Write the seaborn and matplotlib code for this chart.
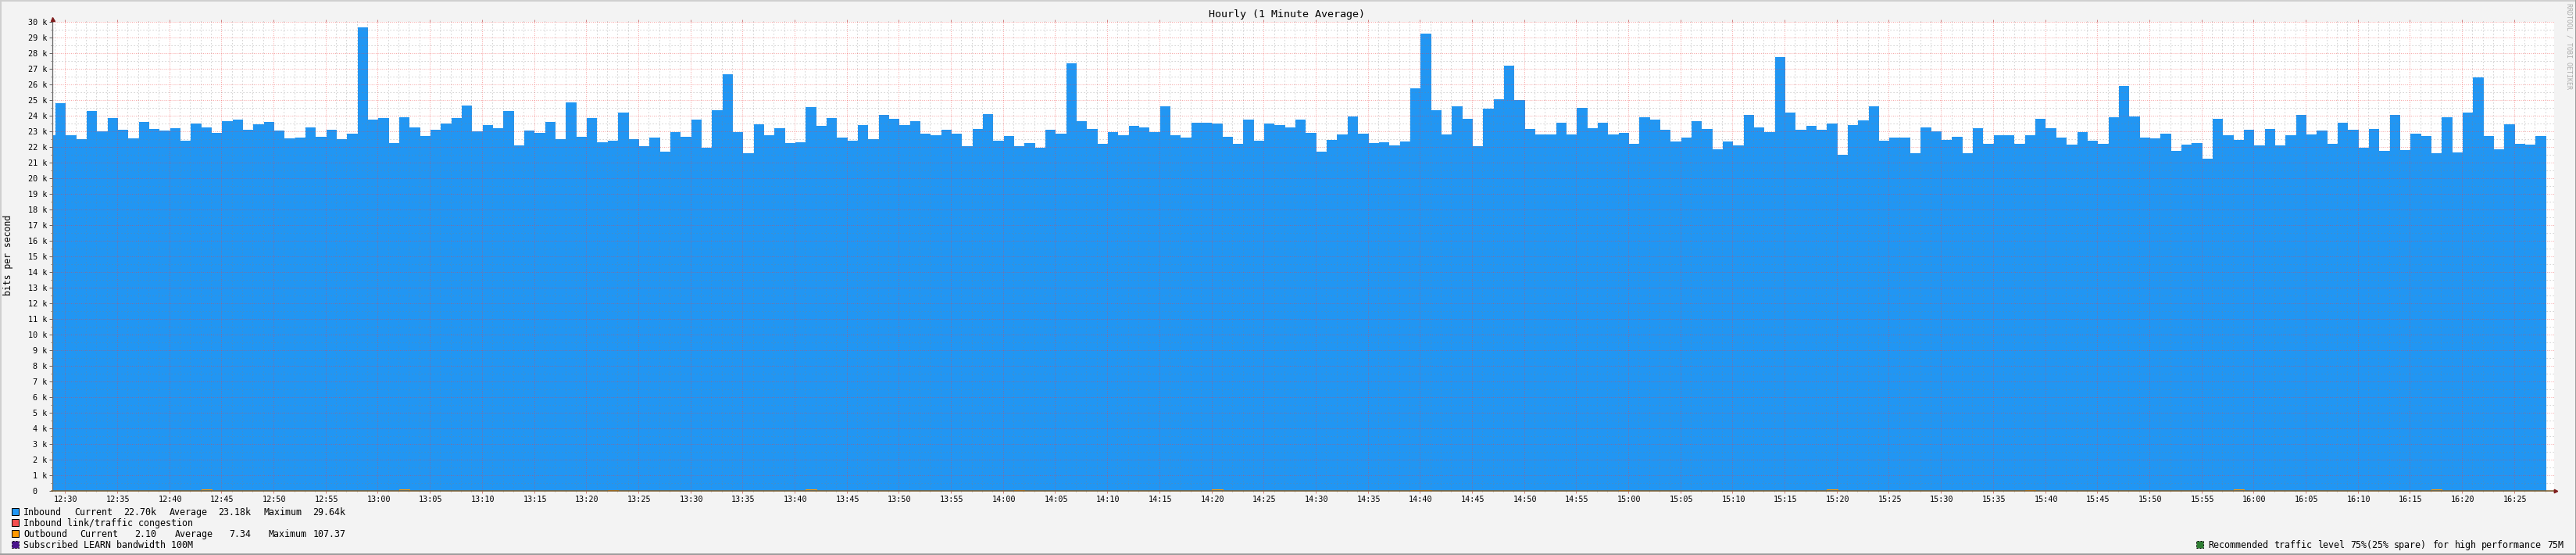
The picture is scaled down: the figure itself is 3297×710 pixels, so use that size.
import numpy as np
import matplotlib
matplotlib.use('Agg')
import matplotlib.pyplot as plt
from matplotlib.patches import Rectangle
from matplotlib.ticker import MultipleLocator, FuncFormatter
from matplotlib.transforms import ScaledTranslation
import seaborn as sns

# inbound traffic in k bits per second, one value per minute from 12:28
inbound = [
    22.77, 24.82, 22.77, 22.52, 24.32, 23.02, 23.87, 23.12, 22.57, 23.62, 23.17, 23.07, 23.22, 22.42, 23.52,
    23.27, 22.92, 23.67, 23.77, 23.12, 23.47, 23.62, 23.07, 22.57, 22.62, 23.27, 22.67, 23.12, 22.52, 22.87,
    29.66, 23.77, 23.87, 22.27, 23.92, 23.27, 22.72, 23.12, 23.52, 23.87, 24.67, 23.02, 23.42, 23.22, 24.32,
    22.12, 23.07, 22.92, 23.62, 22.52, 24.87, 22.67, 23.87,
    22.32, 22.42, 24.22, 22.52, 22.07, 22.62, 21.72, 22.97, 22.67, 23.77, 21.97, 24.37, 26.67, 22.97, 21.62,
    23.47, 22.77, 23.22, 22.27, 22.32, 24.57, 23.37, 23.87, 22.62, 22.42, 23.42, 22.52, 24.07, 23.82, 23.42,
    23.67, 22.87, 22.77, 23.12, 22.87, 22.07, 23.17, 24.12, 22.42, 22.72, 22.07, 22.27, 21.97, 23.12, 22.87,
    27.37, 23.67, 23.17, 22.22, 22.97, 22.77, 23.37, 23.27,
    22.97, 24.62, 22.77, 22.62, 23.57, 23.57, 23.52, 22.67, 22.22, 23.77, 22.42, 23.52, 23.42, 23.27, 23.77,
    22.92, 21.72, 22.47, 22.82, 23.97, 22.87, 22.27, 22.32, 22.12, 22.37, 25.77, 29.27, 24.37, 22.82, 24.62,
    23.82, 22.07, 24.47, 25.07, 27.22, 25.02, 23.17, 22.82, 22.82, 23.57, 22.82, 24.52, 23.22, 23.57, 22.82,
    22.92, 22.22, 23.92, 23.77, 23.12, 22.37, 22.62,
    23.67, 23.17, 21.87, 22.37, 22.12, 24.07, 23.27, 22.97, 27.77, 24.22, 23.12, 23.37, 23.12, 23.52, 21.52,
    23.42, 23.72, 24.62, 22.42, 22.62, 22.62, 21.62, 23.27, 23.02, 22.47, 22.67, 21.62, 23.22, 22.22, 22.77,
    22.77, 22.22, 22.77, 23.82, 23.22, 22.62, 22.17,
    22.97, 22.42, 22.22, 23.92, 25.92, 23.97, 22.62, 22.57, 22.87, 21.77, 22.17, 22.27, 21.27, 23.82, 22.77,
    22.47, 23.12, 22.12, 23.17, 22.12, 22.77, 24.07, 22.82, 23.07, 22.22, 23.57, 23.12, 21.97, 23.17, 21.77,
    24.07, 21.82, 22.87, 22.72, 21.62, 23.92, 21.67, 24.22, 26.47, 22.72, 21.87, 23.47, 22.22, 22.17, 22.70,
]

# outbound is nearly flat, only these minutes (after 12:00) stand out
outbound_base = 2.1
outbound_peak_minutes = [43, 62, 82, 101, 121, 140, 159, 160, 179, 199, 218, 238, 257]
outbound_peak_values = [100, 107.37, 85, 105, 85, 100, 55, 55, 85, 107, 85, 105, 100]

legend_rows = [
    (654, '#2196F3', False, [(30.3, 'Inbound'), (95.3, 'Current'), (158.3, '22.70k'), (216.3, 'Average'),
                             (279.3, '23.18k'), (337, 'Maximum'), (400.3, '29.64k')]),
    (668, '#F44E4E', False, [(30.3, 'Inbound link/traffic congestion')]),
    (682, '#FF9800', False, [(30.3, 'Outbound'), (102, 'Current'), (172.3, '2.10'), (223.3, 'Average'),
                             (293.3, '7.34'), (344, 'Maximum'), (400.3, '107.37')]),
    (696, '#4A148C', True, [(30.3, 'Subscribed LEARN bandwidth 100M')]),
]
recommended_words = [(2826, 'Recommended'), (2910, 'traffic'), (2966, 'level'), (3008, '75%(25%'),
                     (3064, 'spare)'), (3113.5, 'for'), (3141.5, 'high'), (3176, 'performance'), (3260, '75M')]

W, H = 3297, 710
BG = '#F3F3F3'

sns.set_theme(style='white')
plt.rcParams['font.family'] = ['DejaVu Sans Mono']

fig = plt.figure(figsize=(W / 100, H / 100), dpi=100, facecolor=BG)
ax = fig.add_axes([66.5 / W, 1 - 628.3 / H, (3269 - 66.5) / W, (628.3 - 27.7) / H], facecolor='white')

# samples sit slightly after the minute mark
first_minute = 28.07
edges = first_minute + np.arange(len(inbound) + 1)
minutes = edges[:-1]

sns.histplot(x=minutes + 0.5, weights=inbound, bins=edges.tolist(), element='step', fill=True,
             color='#2196F3', alpha=1, linewidth=0, ax=ax)

# outbound line
out_vals = np.full(len(inbound) + 1, outbound_base)
for m, v in zip(outbound_peak_minutes, outbound_peak_values):
    out_vals[m - 28] = v
sns.lineplot(x=edges, y=out_vals / 1000, drawstyle='steps-post', color='#FF9800', linewidth=0.75,
             estimator=None, sort=False, ax=ax, zorder=4)

ax.set_xlim(28.74, 268.84)
ax.set_ylim(0, 30.03)
ax.set_xlabel('')
ax.set_ylabel('')

ax.xaxis.set_major_locator(MultipleLocator(5))
ax.xaxis.set_minor_locator(MultipleLocator(1))
ax.yaxis.set_major_locator(MultipleLocator(1))
ax.yaxis.set_minor_locator(MultipleLocator(0.5))
ax.xaxis.set_major_formatter(FuncFormatter(lambda v, p: '%d:%02d' % (12 + int(v) // 60, int(v) % 60)))
ax.yaxis.set_major_formatter(FuncFormatter(lambda v, p: '%d k' % v if v > 0 else '0  '))

ax.set_axisbelow(False)
ax.grid(which='minor', color='#808080', alpha=0.45, linewidth=0.72, linestyle=(0, (1.2, 2.8)))
ax.grid(which='major', color='#F04040', alpha=0.48, linewidth=0.72, linestyle=(0, (1, 1.6)))

# top ticks stand in for the grid lines poking out above the plot
ax.tick_params(axis='x', which='major', length=2, width=0.72, color='#D08080', labelsize=7.3,
               labelcolor='black', pad=2.2, bottom=True, top=True)
ax.tick_params(axis='x', which='minor', length=1, width=0.72, color='#AAAAAA', bottom=True, top=True)
ax.tick_params(axis='y', which='major', length=3, width=0.72, color='#666666', labelsize=7.3,
               labelcolor='black', pad=1.3, left=True)
ax.tick_params(axis='y', which='minor', length=1.5, width=0.72, color='#888888', left=True)

nudge = ScaledTranslation(1.2 / 100, 0, fig.dpi_scale_trans)
for label in ax.get_xticklabels():
    label.set_transform(label.get_transform() + nudge)

for side in ['top', 'right']:
    ax.spines[side].set_visible(False)
ax.spines['left'].set_color('#666666')
ax.spines['left'].set_linewidth(0.9)
ax.spines['bottom'].set_color('#7A5A2A')
ax.spines['bottom'].set_linewidth(1.1)
ax.spines['bottom'].set_zorder(5)

# axis arrows
ax.plot([0, 0], [1, 1.0065], color='#666666', lw=0.9, transform=ax.transAxes, clip_on=False, zorder=5)
ax.plot([0], [1.0065], marker='^', ms=3.6, color='#7F1D1D', transform=ax.transAxes, clip_on=False, zorder=6)
ax.plot([1.0006], [0], marker='>', ms=3.2, color='#7F1D1D', transform=ax.transAxes, clip_on=False, zorder=6)


def px_text(x, y, s, **kw):
    kw.setdefault('fontsize', 8.36)
    kw.setdefault('color', 'black')
    kw.setdefault('va', 'baseline')
    fig.text(x / W, 1 - y / H, s, **kw)


def swatch(x, y, color, dashed):
    fig.add_artist(Rectangle((x / W, 1 - (y + 4.5) / H), 9 / W, 9 / H, transform=fig.transFigure,
                             facecolor=color, edgecolor='black', linewidth=0.72,
                             linestyle=(0, (2, 2)) if dashed else '-'))


px_text(1647, 18.5, 'Hourly (1 Minute Average)', fontsize=9.6, ha='center', va='center')
px_text(10.5, 326, 'bits per second', fontsize=8.3, rotation=90, ha='center', va='center')
px_text(3288, 59, 'RRDTOOL / TOBI OETIKER', fontsize=6, rotation=270, ha='center', va='center', color='#ABABAB')

for y, color, dashed, parts in legend_rows:
    swatch(15.3, y, color, dashed)
    for x, s in parts:
        px_text(x, y + 4.7, s)

swatch(2811, 696, '#2E7D32', True)
for x, s in recommended_words:
    px_text(x, 700.7, s)

# image frame
for x0, y0, w, h, c in [(0, 0, W, 2, '#CFCFCF'), (0, 0, 2, H, '#CFCFCF'),
                        (W - 1.5, 0, 1.5, H, '#9E9E9E'), (0, H - 2, W, 2, '#9E9E9E')]:
    fig.add_artist(Rectangle((x0 / W, 1 - (y0 + h) / H), w / W, h / H, transform=fig.transFigure,
                             facecolor=c, edgecolor='none'))

fig.savefig('out.png', dpi=100, facecolor=BG)
